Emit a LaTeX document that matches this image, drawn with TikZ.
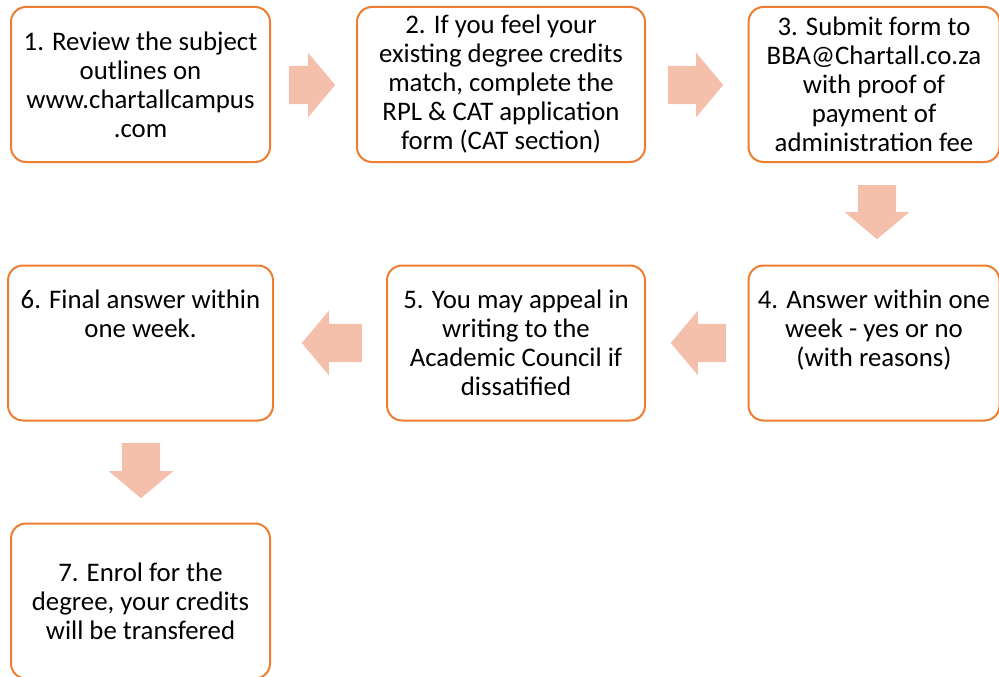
\documentclass[tikz,border=0pt]{standalone}
\usepackage{fontspec}
\setmainfont{Carlito}
\usetikzlibrary{shapes.arrows}
\definecolor{stepline}{HTML}{ED7D31}
\definecolor{stepfill}{HTML}{F4BFAB}
\tikzset{
	stepbox/.style={draw=stepline, line width=2pt, rounded corners=15pt,
		minimum width=259pt, minimum height=155pt, inner sep=0pt,
		align=center, font=\fontsize{26.8}{29}\selectfont},
	blockarrow/.style={single arrow, fill=stepfill, draw=none,
		inner xsep=0pt, inner ysep=19pt, anchor=tail,
		minimum width=64pt, single arrow head extend=13pt,
		single arrow tip angle=100, single arrow head indent=0pt},
	downarrow/.style={blockarrow, inner xsep=19pt, inner ysep=0pt,
		shape border rotate=270},
}
\begin{document}
\begin{tikzpicture}[x=1pt,y=-1pt]
	\useasboundingbox (0,0) rectangle (999,677);
	% steps
	\node[stepbox] (s1) at (140.5,84.5) {1. Review the subject\\ outlines on\\ www.chartallcampus\\ .com};
	\node[stepbox, minimum width=288pt] (s2) at (501,84.5) {2. If you feel your\\ existing degree credits\\ match, complete the\\ RPL \& CAT application\\ form (CAT section)};
	\node[stepbox, minimum width=251pt] (s3) at (874,84.5) {3. Submit form to\\ BBA@Chartall.co.za\\ with proof of\\ payment of\\ administration fee};
	\node[stepbox, minimum width=251pt] (s4) at (874,343) {4. Answer within one\\ week - yes or no\\ (with reasons)\\ ~};
	\node[stepbox, minimum width=258pt] (s5) at (516,343) {5. You may appeal in\\ writing to the\\ Academic Council if\\ dissatified};
	\node[stepbox, minimum width=265pt] (s6) at (140.5,343) {6. Final answer within\\ one week.\\ ~\\ ~};
	\node[stepbox] (s7) at (140.5,601) {7. Enrol for the\\ degree, your credits\\ will be transfered};
	% arrows
	\node[blockarrow, minimum height=46pt] (a12) at (289,85) {};
	\node[blockarrow, minimum height=55pt] (a23) at (668,85) {};
	\node[downarrow, minimum height=54pt] (a34) at (877,185) {};
	\node[blockarrow, minimum height=55pt, shape border rotate=180] (a45) at (726,343) {};
	\node[blockarrow, minimum height=60pt, shape border rotate=180] (a56) at (362,343) {};
	\node[downarrow, minimum height=55pt] (a67) at (141,443) {};
\end{tikzpicture}
\end{document}
